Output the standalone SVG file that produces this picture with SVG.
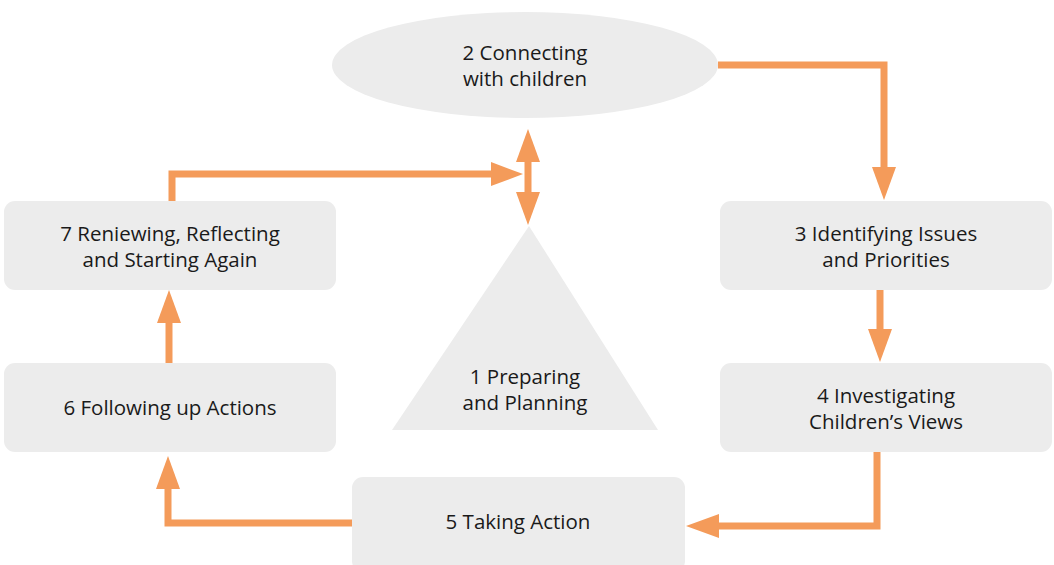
<svg xmlns="http://www.w3.org/2000/svg" width="1054" height="565" viewBox="0 0 1054 565">
<style>
.n{fill:#ececec}
.t{font-family:"Open Sans","Liberation Sans",sans-serif;font-size:20.5px;fill:#1a1a1a;text-anchor:middle}
.l{fill:none;stroke:#f49b5a;stroke-width:7}
.h{fill:#f49b5a}
</style>
<rect width="1054" height="565" fill="#fff"/>
<g id="n2"><ellipse class="n" cx="525" cy="65" rx="193" ry="53"/><text class="t" x="525" y="60">2 Connecting</text><text class="t" x="525" y="86">with children</text></g>
<g id="n1"><polygon class="n" points="529,226 658,430 392,430"/><text class="t" x="525" y="384">1 Preparing</text><text class="t" x="525" y="410">and Planning</text></g>
<g id="n7"><rect class="n" x="4" y="201" width="332" height="89" rx="11"/><text class="t" x="170" y="241">7 Reniewing, Reflecting</text><text class="t" x="170" y="267">and Starting Again</text></g>
<g id="n6"><rect class="n" x="4" y="363" width="332" height="89" rx="11"/><text class="t" x="170" y="415">6 Following up Actions</text></g>
<g id="n3"><rect class="n" x="720" y="201" width="332" height="89" rx="11"/><text class="t" x="886" y="241">3 Identifying Issues</text><text class="t" x="886" y="267">and Priorities</text></g>
<g id="n4"><rect class="n" x="720" y="363" width="332" height="89" rx="11"/><text class="t" x="886" y="403">4 Investigating</text><text class="t" x="886" y="429">Children’s Views</text></g>
<g id="n5"><rect class="n" x="352" y="477" width="333" height="95" rx="11"/><text class="t" x="518" y="529">5 Taking Action</text></g>
<g id="connectors">
<polyline class="l" points="718,65 884,65 884,170"/>
<polygon class="h" points="872,167 896,167 884,200"/>
<line class="l" x1="880" y1="290" x2="880" y2="332"/>
<polygon class="h" points="868,329 892,329 880,362"/>
<polyline class="l" points="877,452 877,526 716,526"/>
<polygon class="h" points="719,514 719,538 686,526"/>
<polyline class="l" points="352,523 168,523 168,486"/>
<polygon class="h" points="156,489 180,489 168,456"/>
<line class="l" x1="169" y1="363" x2="169" y2="320"/>
<polygon class="h" points="157,323 181,323 169,290"/>
<polyline class="l" points="172,201 172,174 494,174"/>
<polygon class="h" points="491,162 491,186 523,174"/>
<line class="l" x1="528" y1="158" x2="528" y2="195"/>
<polygon class="h" points="516,162 540,162 528,129"/>
<polygon class="h" points="516,192 540,192 528,225"/>
</g>
</svg>
